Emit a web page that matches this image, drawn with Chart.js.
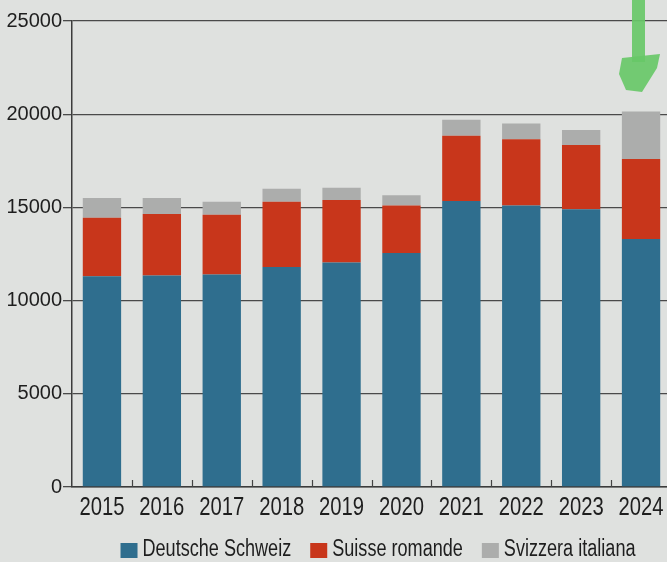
<!DOCTYPE html>
<html>
<head>
<meta charset="utf-8">
<script src="https://cdn.jsdelivr.net/npm/chart.js@4.4.1/dist/chart.umd.min.js"></script>
<style>
  html, body { margin: 0; padding: 0; overflow: hidden; }
  body { background: #dfe1df; width: 667px; height: 562px; }
  #wrap { position: absolute; left: 0; top: 0; width: 756px; height: 562px; }
</style>
</head>
<body>
<div id="wrap"><canvas id="barChart" width="756" height="562"></canvas></div>
<script>
// Werte
const years = ["2015", "2016", "2017", "2018", "2019", "2020", "2021", "2022", "2023", "2024"];
const deutscheSchweiz = [11300, 11350, 11400, 11800, 12050, 12550, 15350, 15100, 14900, 13300];
const suisseRomande = [3150, 3300, 3200, 3500, 3350, 2550, 3500, 3550, 3450, 4300];
const svizzeraItaliana = [1050, 850, 700, 700, 650, 550, 850, 850, 800, 2550];
const yTicks = [0, 5000, 10000, 15000, 20000, 25000];

const sans = "'Liberation Sans', Arial, sans-serif";
const textColor = "#1e1e1e";

// condensed text: Arial metrics squeezed horizontally (no narrow font installed)
function narrowText(c, str, x, y, size, squeeze, align) {
  c.save();
  c.font = size + "px " + sans;
  c.textBaseline = "middle";
  c.textAlign = align;
  c.translate(x, y);
  c.scale(squeeze, 1);
  c.fillText(str, 0, 0);
  c.restore();
}

// year labels under the bars + small upward ticks between the bars
const xAxisDeco = {
  id: "xAxisDeco",
  afterDatasetsDraw(chart) {
    const x = chart.scales.x;
    const bottom = chart.chartArea.bottom;
    const c = chart.ctx;
    c.save();
    c.strokeStyle = "#444";
    c.lineWidth = 1.2;
    for (let i = 1; i < years.length; i++) {
      const px = Math.round(x.getPixelForValue(i - 0.5)) + 0.5;
      c.beginPath();
      c.moveTo(px, bottom);
      c.lineTo(px, bottom - 7);
      c.stroke();
    }
    c.fillStyle = textColor;
    years.forEach((y, i) => {
      narrowText(c, y, x.getPixelForValue(i), bottom + 21, 25, 0.81, "center");
    });
    c.restore();
  },
};

// legend drawn below the axis, centred on the canvas
const bottomLegend = {
  id: "bottomLegend",
  afterDraw(chart) {
    const c = chart.ctx;
    const size = 23, squeeze = 0.786, box = 17, gap = 5, between = 19;
    const items = chart.data.datasets.map((ds) => {
      c.font = size + "px " + sans;
      return { label: ds.label, color: ds.backgroundColor, w: c.measureText(ds.label).width * squeeze };
    });
    const total = items.reduce((s, it) => s + box + gap + it.w, 0) + between * (items.length - 1);
    let x = chart.width / 2 - total / 2;
    const cy = 550;
    items.forEach((it) => {
      c.fillStyle = it.color;
      c.fillRect(x, cy - 7, box, 15);
      x += box + gap;
      c.fillStyle = textColor;
      narrowText(c, it.label, x, cy, size, squeeze, "left");
      x += it.w + between;
    });
  },
};

// green marker arrow drawn on the printed page
const penArrow = {
  id: "penArrow",
  afterDraw(chart) {
    const c = chart.ctx;
    c.save();
    c.fillStyle = "rgba(104, 200, 104, 0.92)";
    c.fillRect(632, 0, 13, 62);
    c.beginPath();
    c.moveTo(622, 58);
    c.lineTo(660, 54);
    c.lineTo(657, 68);
    c.lineTo(642, 92);
    c.lineTo(626, 90);
    c.lineTo(619, 74);
    c.closePath();
    c.fill();
    c.restore();
  },
};

const ctx = document.getElementById("barChart").getContext("2d");
new Chart(ctx, {
  type: "bar",
  data: {
    labels: years,
    datasets: [
      {
        label: "Deutsche Schweiz",
        data: deutscheSchweiz,
        backgroundColor: "#2f6e8e",
      },
      {
        label: "Suisse romande",
        data: suisseRomande,
        backgroundColor: "#c8361b",
      },
      {
        label: "Svizzera italiana",
        data: svizzeraItaliana,
        backgroundColor: "#acadac",
      },
    ],
  },
  options: {
    responsive: false,
    animation: false,
    layout: { padding: { top: 21, right: 85, bottom: 0, left: 0 } },
    datasets: {
      bar: { barPercentage: 0.64, categoryPercentage: 1.0, borderWidth: 0 },
    },
    plugins: {
      tooltip: { enabled: false },
      legend: { display: false },
    },
    scales: {
      x: {
        stacked: true,
        grid: { display: false },
        border: { display: true, color: "#3c3c3c", width: 1.5 },
        ticks: { display: false },
        afterFit(scale) { scale.height = 75; },
      },
      y: {
        stacked: true,
        min: 0,
        max: 25000,
        afterBuildTicks(scale) { scale.ticks = yTicks.map((v) => ({ value: v })); },
        grid: { color: "#4a4a4a", lineWidth: 1.3, tickLength: 9 },
        border: { display: true, color: "#3c3c3c", width: 1.5 },
        ticks: {
          color: textColor,
          padding: 1,
          font: { family: sans, size: 20 },
          callback: (v) => String(v),
        },
        afterFit(scale) { scale.width = 72; },
      },
    },
  },
  plugins: [xAxisDeco, bottomLegend, penArrow],
});
</script>
</body>
</html>
